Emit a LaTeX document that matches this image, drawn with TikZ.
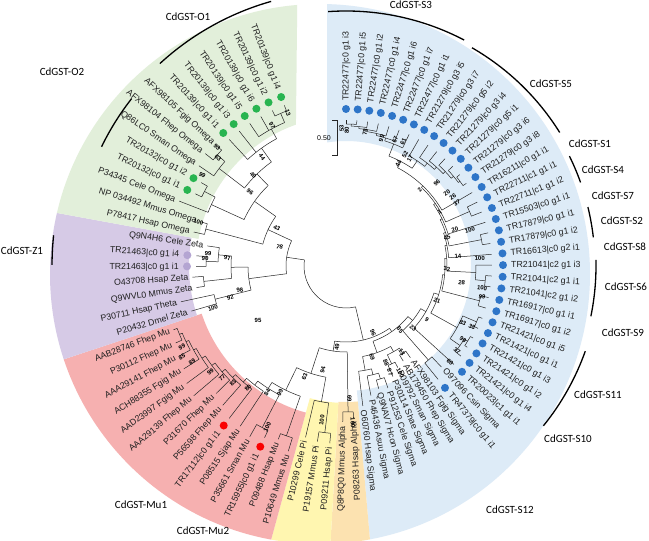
\documentclass[tikz,border=0pt]{standalone}
\usepackage{fontspec}
\setmainfont{Liberation Sans}
\newfontfamily\grpfont{Carlito}
\definecolor{bluebg}{RGB}{221,235,247}
\definecolor{greenbg}{RGB}{226,239,218}
\definecolor{purplebg}{RGB}{214,202,230}
\definecolor{redbg}{RGB}{246,176,176}
\definecolor{yellowbg}{RGB}{255,246,176}
\definecolor{orangebg}{RGB}{252,226,176}
\definecolor{dotblue}{RGB}{46,117,200}
\definecolor{dotgreen}{RGB}{40,180,80}
\definecolor{dotpurple}{RGB}{180,165,210}
\definecolor{dotred}{RGB}{250,0,0}
\pgfmathdeclarefunction{lfa}{1}{%
  \pgfmathparse{(#1<=34) ? (90-(#1-1)*4.27) : ((#1<=67) ? (-50.9-(#1-34)*4.03) : (-183.9-(#1-67)*4.34))}%
}
\tikzset{
  br/.style={draw=black!85,line width=0.5pt},
  lbl/.style={font=\fontsize{8.8}{10}\selectfont,text=black!88,inner sep=0pt},
  bs/.style={font=\fontsize{6}{7}\selectfont\bfseries,inner sep=0pt},
  grp/.style={font=\grpfont\fontsize{11}{12}\selectfont,inner sep=0pt},
  garc/.style={draw=black,line width=1.3pt},
}
\newcommand\Nd[4]{%
  \draw[br] ({lfa(#2)}:#1) arc[start angle={lfa(#2)}, end angle={lfa(#3)}, radius=#1];%
  \foreach \pp/\rr in {#4}{\draw[br] ({lfa(\pp)}:#1) -- ({lfa(\pp)}:\rr);}%
}
\begin{document}
\begin{tikzpicture}[x=1pt,y=1pt]
\useasboundingbox (0,0) rectangle (649,541);
\fill[white] (0,0) rectangle (649,541);
\begin{scope}[shift={(346,275)}]
% ---------- coloured sectors
\begin{scope}
\clip (-26,-8) circle[radius=270];
\fill[bluebg] (-85:125) arc[start angle=-85, end angle=98.7, radius=125] -- (-19,330) -- (60:450) -- (-30:450) -- (-85:450) -- cycle;
\fill[orangebg] (-93.2:136) arc[start angle=-93.2,end angle=-85,radius=136] -- (-85:450) -- (-93.2:450) -- cycle;
\fill[yellowbg] (-105.3:137) arc[start angle=-105.3,end angle=-93.2,radius=137] -- (-93.2:450) -- (-105.3:450) -- cycle;
\fill[redbg] (-161.7:152) arc[start angle=-161.7,end angle=-105.3,radius=152] -- (-105.3:450) -- (-161.7:450) -- cycle;
\fill[purplebg] (-190.4:157) arc[start angle=-190.4,end angle=-161.7,radius=157] -- (-161.7:450) -- (-190.4:450) -- cycle;
\fill[greenbg] (-250.5:150) arc[start angle=-250.5,end angle=-190.4,radius=150] -- (-190.4:450) -- (-220:450) -- (-48,330) -- cycle;
\end{scope}
% ---------- tree: S3 comb
\Nd{142}{1}{2}{1/146,2/146}
\Nd{140}{1.5}{3}{1.5/142,3/146}
\Nd{138}{2.25}{4}{2.25/140,4/146}
\Nd{136}{3.125}{5}{3.125/138,5/146}
\Nd{134}{4.06}{6}{4.06/136,6/146}
\Nd{131}{5.03}{7}{5.03/134,7/146}
% S5 comb
\Nd{142}{13}{14}{13/146,14/146}
\Nd{140}{12}{13.5}{12/146,13.5/142}
\Nd{137}{11}{12.75}{11/146,12.75/140}
\Nd{134}{10}{11.875}{10/146,11.875/137}
\Nd{131}{9}{10.94}{9/146,10.94/134}
\Nd{127}{8}{9.97}{8/146,9.97/131}
\Nd{118}{6.0}{8.985}{6.0/131,8.985/127}
\Nd{111}{7.49}{15}{7.49/118,15/146}
\Nd{135}{16}{17}{16/146,17/146}
\Nd{109}{11.25}{16.5}{11.25/111,16.5/135}
\Nd{107}{13.875}{18}{13.875/109,18/146}
\Nd{138}{19}{20}{19/146,20/146}
\Nd{105}{15.94}{19.5}{15.94/107,19.5/138}
\Nd{103}{17.72}{21}{17.72/105,21/146}
\Nd{140}{23}{24}{23/146,24/146}
\Nd{130}{22}{23.5}{22/146,23.5/140}
\Nd{101}{19.36}{22.75}{19.36/103,22.75/130}
\Nd{138}{25}{26}{25/146,26/146}
\Nd{99}{21.06}{25.5}{21.06/101,25.5/138}
\Nd{142}{27}{28}{27/146,28/146}
\Nd{143}{29}{30}{29/146,30/146}
\Nd{139}{29.5}{31}{29.5/143,31/146}
\Nd{127}{27.5}{30.25}{27.5/142,30.25/139}
\Nd{97}{23.28}{28.875}{23.28/99,28.875/127}
\Nd{92}{26.08}{32}{26.08/97,32/146}
\Nd{125}{33}{34}{33/139,34/146}
\Nd{86}{29.04}{33.5}{29.04/92,33.5/125}
% Sigma
\Nd{104}{35}{36}{35/112,36/111}
\Nd{108}{37}{38}{37/114,38/120}
\Nd{98}{35.5}{37.5}{35.5/104,37.5/108}
\Nd{118}{39}{40}{39/129,40/127}
\Nd{112}{39.5}{41}{39.5/118,41/132}
\Nd{106}{40.25}{42}{40.25/112,42/141}
\Nd{92}{36.5}{41.125}{36.5/98,41.125/106}
\Nd{80}{31.27}{38.81}{31.27/86,38.81/92}
% Alpha, Pi
\Nd{146}{43}{44}{43/152,44/156}
\Nd{168}{45}{46}{45/178,46/178}
\Nd{138}{45.5}{47}{45.5/168,47/176}
% Mu
\Nd{180}{48}{49}{48/194,49/186}
\Nd{180}{60}{61}{60/187,61/184}
\Nd{177}{59}{60.5}{59/190,60.5/180}
\Nd{174}{58}{59.75}{58/192,59.75/177}
\Nd{171}{57}{58.875}{57/198,58.875/174}
\Nd{167}{56}{57.94}{56/200,57.94/171}
\Nd{163}{55}{56.97}{55/182,56.97/167}
\Nd{159}{54}{55.98}{54/186,55.98/163}
\Nd{155}{53}{54.99}{53/192,54.99/159}
\Nd{150}{52}{54.0}{52/192,54.0/155}
\Nd{182}{50}{51}{50/190,51/196}
\Nd{145}{50.5}{53.0}{50.5/182,53.0/150}
\Nd{138}{48.5}{51.75}{48.5/180,51.75/145}
\Nd{113}{46.25}{50.125}{46.25/138,50.125/138}
\Nd{86}{43.5}{48.19}{43.5/146,48.19/113}
\Nd{76}{35.04}{45.84}{35.04/80,45.84/86}
% Zeta
\Nd{135}{62}{63}{62/161,63/169}
\Nd{140}{66}{67}{66/150,67/150}
\Nd{128}{66.5}{68}{66.5/140,68/140}
\Nd{143}{64}{65}{64/151,65/154}
\Nd{115}{64.5}{67.25}{64.5/143,67.25/128}
\Nd{98}{62.5}{65.875}{62.5/135,65.875/115}
% Omega
\Nd{145}{69}{70}{69/156,70/152}
\Nd{160}{72}{73}{72/167,73/167}
\Nd{148}{71}{72.5}{71/179,72.5/160}
\Nd{170}{75}{76}{75/180,76/177}
\Nd{160}{74}{75.5}{74/178,75.5/170}
\Nd{166}{81}{82}{81/172,82/172}
\Nd{156}{79}{81.5}{79/172,80/172,81.5/166}
\Nd{145}{77}{80.25}{77/172,78/172,80.25/156}
\Nd{128}{74.75}{78.625}{74.75/160,78.625/145}
\Nd{112}{71.75}{76.69}{71.75/148,76.69/128}
\Nd{86}{69.5}{74.22}{69.5/145,74.22/112}
\Nd{60}{64.19}{71.86}{64.19/98,71.86/86}
% root
\Nd{42}{40.44}{68.03}{40.44/76,68.03/60}
% ---------- dots
\foreach \k in {1,...,32,34}{\fill[dotblue] ({lfa(\k)}:157) circle[radius=4];}
\foreach \k/\r in {72/176,73/176,77/181,78/181,79/181,80/181,81/181,82/181}{\fill[dotgreen] ({lfa(\k)}:\r) circle[radius=4];}
\foreach \k in {66,67}{\fill[dotpurple] ({lfa(\k)}:159) circle[radius=4];}
\foreach \k/\r in {50/200,53/201}{\fill[dotred] ({lfa(\k)}:\r) circle[radius=4];}
% ---------- leaf labels
\foreach \k/\t/\rl in {
 1/TR22477|c0 g1 i3/165, 2/TR22477|c0 g1 i5/165, 3/TR22477|c0 g1 i2/165, 4/TR22477|c0 g1 i4/165,
 5/TR22477|c0 g1 i6/165, 6/TR22477|c0 g1 i7/165, 7/TR22477|c0 g1 i1/165,
 8/TR21279|c0 g3 i5/165, 9/TR21279|c0 g3 i7/165, 10/TR21279|c0 g5 i2/165, 11/TR21279|c0 g3 i4/165,
 12/TR21279|c0 g5 i1/165, 13/TR21279|c0 g3 i6/165, 14/TR21279|c0 g3 i8/165,
 15/TR16211|c0 g1 i1/165, 16/TR22711|c1 g1 i1/165, 17/TR22711|c1 g1 i2/165, 18/TR15503|c0 g1 i1/165,
 19/TR17879|c0 g1 i1/165, 20/TR17879|c0 g1 i2/165, 21/TR16613|c0 g2 i1/165,
 22/TR21041|c2 g1 i3/165, 23/TR21041|c2 g1 i1/165, 24/TR21041|c2 g1 i2/165,
 25/TR16917|c0 g1 i1/165, 26/TR16917|c0 g1 i2/165,
 27/TR21421|c0 g1 i5/165, 28/TR21421|c0 g1 i1/165, 29/TR21421|c0 g1 i3/165, 30/TR21421|c0 g1 i2/165,
 31/TR21421|c0 g1 i4/165, 32/TR20023|c1 g1 i1/165, 33/O97096 Csin Sigma/143, 34/TR47379|c0 g1 i1/165,
 35/AFX98103 Fgig Sigma/116, 36/AB179450 Fhep Sigma/115, 37/P09792 Sman Sigma/118, 38/P30114 Shae Sigma/124,
 39/P91253 Cele Sigma/133, 40/Q9NAV7 Hcon Sigma/131, 41/P46436 Asuu Sigma/136, 42/O60760 Hsap Sigma/145,
 43/P08263 Hsap Alpha/156, 44/Q8P8Q0 Mmus Alpha/160,
 45/P09211 Hsap Pi/182, 46/P19157 Mmus Pi/182, 47/P10299 Cele Pi/180,
 48/P10649 Mmus Mu/198, 49/P09488 Hsap Mu/190, 50/TR15955|c0 g1 i1/208, 51/P35661 Sman Mu/200,
 52/P08515 Sjap Mu/196, 53/TR17112|c0 g1 i1/209, 54/P56598 Fhep Mu/190, 55/P31670 Fhep Mu/186,
 56/AAA29139 Fhep Mu/204, 57/AAD23997 Fgig Mu/202, 58/ACH88355 Fgig Mu/196, 59/AAA29141 Fhep Mu/194,
 60/P30112 Fhep Mu/191, 61/AAB28746 Fhep Mu/188,
 62/P20432 Dmel Zeta/165, 63/P30711 Hsap Theta/173, 64/Q9WVL0 Mmus Zeta/155, 65/O43708 Hsap Zeta/158,
 66/TR21463|c0 g1 i1/167, 67/TR21463|c0 g1 i4/167, 68/Q9N4H6 Cele Zeta/144,
 69/P78417 Hsap Omega/160, 70/NP 034492 Mmus Omega/156, 71/P34345 Cele Omega/183,
 72/TR20132|c0 g1 i1/184, 73/TR20132|c0 g1 i2/184, 74/Q86LC0 Sman Omega/182,
 75/AFX98104 Fhep Omega/184, 76/AFX98105 Fgig Omega/181,
 77/TR20139|c0 g1 i1/189, 78/TR20139|c0 g1 i3/189, 79/TR20139|c0 g1 i5/189, 80/TR20139|c0 g1 i6/189,
 81/TR20139|c0 g1 i2/189, 82/TR20139|c0 g1 i4/189}{
  \pgfmathsetmacro\ang{lfa(\k)}
  \ifnum\k<43
    \node[lbl,rotate=\ang,anchor=mid west] at (\ang:\rl) {\t};
  \else
    \node[lbl,rotate=\ang+180,anchor=mid east] at (\ang:\rl) {\t};
  \fi
}
% ---------- bootstrap values
\foreach \th/\r/\t in {
 232.4/137.6/44, 220.2/167.5/63, 224.4/130/49, 217.6/121/96, 212.3/170/99, 196.6/154/100, 208.8/79/43,
 196/69/78, 183.8/119/97, 185/138.5/99, 182.9/141/90, 167.2/108.7/98, 164.6/120/92, 162.5/139.5/100,
 222.7/175.5/93, 242.3/159/97, 249.2/163.6/13,
 153.7/183/99, 151/187.6/85, 148/181.5/89, 142/172/99, 137.9/167/77, 134/162.7/83, 128.8/156.5/80,
 122/148.7/84, 117.5/143/99, 116.1/179/100, 110.5/118/63, 102.5/106.5/94, 96.3/81.5/49, 98.9/156/100,
 87.5/157/100, 88.5/133/69,
 68/72/96, 74/94.6/69, 49.8/83.7/85, 57/102.6/13, 67.6/105/88, 67.5/115/87, 63.2/120/100,
 -45.8/106/2, -42.4/123/96, -35.9/124.6/20, -32.8/127/26, -29.6/127.6/37, -29.9/108/1, -18.3/114.8/20,
 -15.5/104.8/45, -16.2/129/100, -5.1/112.4/14, -3.4/134/100, 1.7/101/32, 8.3/117/28, 9.2/137.8/100,
 12.8/139.5/99, 21/97.5/21, 33.7/97.3/9, 26/130/83, 25.8/140/38, 42.8/91.3/23, 32.3/138.4/99,
 37.4/139.8/37, 42.7/141.5/60,
 -91.8/137.8/53, -89.7/136/80, -81.9/135.6/78, -74.4/132.6/99, -68.7/135.2/67, -65.3/136.9/61,
 -62/125.7/52, -59.3/125.3/17, -63/115.2/44}{
  \pgfmathsetmacro\ph{0-(\th)}
  \pgfmathsetmacro\rot{cos(\ph)>-0.1 ? \ph : \ph+180}
  \node[bs,rotate=\rot] at (\ph:\r) {\t};
}
\node[bs] (b95) at (-88,-54) {95};
% ---------- scale bar
\coordinate (sbt) at (-9,146);
\coordinate (sbb) at (-9,111);
\draw[br] ([xshift=-5]sbt) -- (sbt) -- (sbb) -- ([xshift=-5]sbb);
\node[font=\fontsize{7}{8}\selectfont,anchor=east,inner sep=0pt] (sbl) at (-15,128) {0.50};
% ---------- group arcs and labels
\draw[garc] (94:255) arc[start angle=94, end angle=62.4, radius=255];
\draw[garc] (60:252) arc[start angle=60,end angle=32,radius=252];
\draw[garc] (26.2:249) arc[start angle=26.2,end angle=19.6,radius=249];
\draw[garc] (13.7:249) arc[start angle=13.7,end angle=6.6,radius=249];
\draw[garc] (1.4:250) arc[start angle=1.4,end angle=-11.6,radius=250];
\draw[garc] (-19.6:254) arc[start angle=-19.6,end angle=-39,radius=254];
\draw[garc] (174:294) arc[start angle=174,end angle=179.8,radius=294];
\draw[garc] (132.6:275) arc[start angle=132.6,end angle=105.8,radius=275];
\draw[garc] (154:272) arc[start angle=154,end angle=142,radius=272];
\node[grp] (gS3) at (65,261) {CdGST-S3};
\node[grp] (gS5) at (205,182) {CdGST-S5};
\node[grp] (gS1) at (244,122) {CdGST-S1};
\node[grp] (gS4) at (257,96) {CdGST-S4};
\node[grp] (gS7) at (267,70) {CdGST-S7};
\node[grp] (gS2) at (276,45) {CdGST-S2};
\node[grp] (gS8) at (279,19) {CdGST-S8};
\node[grp] (gS6) at (280,-21) {CdGST-S6};
\node[grp] (gS9) at (277,-67) {CdGST-S9};
\node[grp] (gS11) at (252,-129) {CdGST-S11};
\node[grp] (gS10) at (222,-173) {CdGST-S10};
\node[grp] (gS12) at (164,-244) {CdGST-S12};
\node[grp] (gMu1) at (-205,-239) {CdGST-Mu1};
\node[grp] (gMu2) at (-143,-265) {CdGST-Mu2};
\node[grp] (gZ1) at (-324,15) {CdGST-Z1};
\node[grp] (gO2) at (-284,194) {CdGST-O2};
\node[grp] (gO1) at (-158,249) {CdGST-O1};
\end{scope}
\end{tikzpicture}
\end{document}
